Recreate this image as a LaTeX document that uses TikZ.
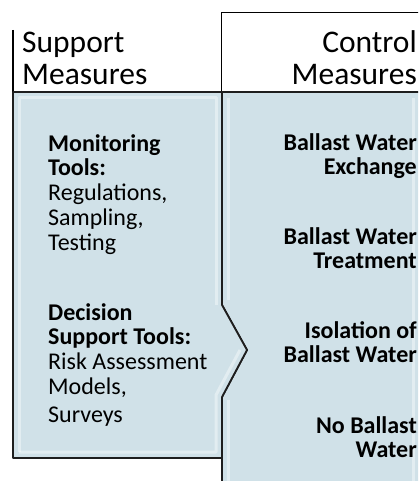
\documentclass[tikz,border=0pt]{standalone}
\usepackage{fontspec}
\setmainfont{Carlito}
\usetikzlibrary{positioning}
\definecolor{boxfill}{RGB}{208,225,232}
\definecolor{boxedge}{RGB}{30,30,30}
\tikzstyle{hdr}=[inner sep=0pt, font=\fontsize{31.5}{32}\selectfont]
\tikzstyle{lefttxt}=[inner sep=0pt, align=left, font=\fontsize{24}{24.7}\selectfont]
\tikzstyle{righttxt}=[inner sep=0pt, align=right, font=\fontsize{24}{23.7}\selectfont\bfseries]
\tikzstyle{panel}=[fill=boxfill, draw=boxedge, line width=1.8pt, line join=round]
\tikzstyle{bevel}=[draw=white, opacity=.4, line width=3pt, line join=round]

\begin{document}
\begin{tikzpicture}[x=1pt, y=-1pt]
\useasboundingbox (0,0) rectangle (418,481);
\clip (0,0) rectangle (418,481);
% the header rules
\draw[line width=1.8pt] (13,30) -- (13,92);
\draw[line width=1pt] (13,92) -- (222,92);
\draw[line width=1pt] (221,92) -- (221,13) -- (420,13);
% the right panel
\draw[panel] (430,92) -- (222,92) -- (222,305) -- (247,350) -- (222,397) -- (222,490) -- (430,490);
\draw[bevel] (228,98) -- (228,300);
\draw[bevel] (228,400) -- (228,490);
\draw[bevel] (413,98) -- (413,490);
% the left panel
\draw[panel] (13,92) -- (222,92) -- (222,305) -- (247,350) -- (222,397) -- (222,458) -- (13,458) -- cycle;
\draw[bevel] (19,452) -- (19,98) -- (216,98) -- (216,305);
\draw[bevel] (240,350) -- (216,395) -- (216,452) -- (19,452);
% the headers (base = last line)
\node[hdr, anchor=base west, align=left] (suphdr) at (22,85) {Support\\Measures};
\node[hdr, anchor=base east, align=right] (ctlhdr) at (417,85) {Control\\Measures};
% the support measures
\node[lefttxt, anchor=base west] (montools) at (48,250) {\textbf{Monitoring}\\\textbf{Tools:}\\Regulations,\\Sampling,\\Testing};
\node[lefttxt, anchor=base west] (dectools) at (48,422) {\textbf{Decision}\\\textbf{Support Tools:}\\Risk Assessment\\Models,\\[3pt]Surveys};
% the control measures
\node[righttxt, anchor=base east] (exch) at (417,174) {Ballast Water\\Exchange};
\node[righttxt, anchor=base east] (treat) at (417,268) {Ballast Water\\Treatment};
\node[righttxt, anchor=base east] (isol) at (417,362) {Isolation of\\Ballast Water};
\node[righttxt, anchor=base east] (noball) at (417,457) {No Ballast\\Water};
\end{tikzpicture}
\end{document}
